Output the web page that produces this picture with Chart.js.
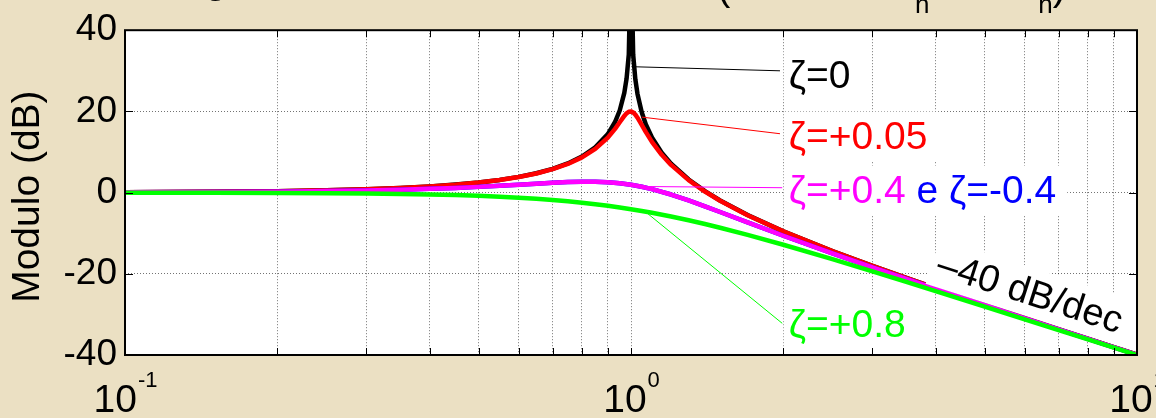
<!DOCTYPE html>
<html>
<head>
    <title>bode-modulo</title>
    <meta charset="utf-8">
    <script src="https://cdn.jsdelivr.net/npm/chart.js"></script>
    <style>
        body { margin: 0; background: #ebe0c3; }
        canvas { display: block; }
    </style>
</head>
<body>
    <canvas id="bode" width="1156" height="418"></canvas>

    <script>
        // pulsazione normalizzata w/wn
        const freqFine = [0.1, 0.15, 0.2, 0.25, 0.3, 0.35, 0.4, 0.45, 0.5, 0.55, 0.6, 0.65, 0.7, 0.75, 0.8, 0.85, 0.9, 0.93, 0.95, 0.97, 0.98, 0.99,
            1.0, 1.01, 1.02, 1.03, 1.05, 1.07, 1.1, 1.15, 1.2, 1.3, 1.4, 1.5, 1.7, 2, 2.5, 3, 3.5, 4, 5, 6, 7, 8, 9, 10];
        const freqCoarse = [0.1, 0.15, 0.2, 0.25, 0.3, 0.35, 0.4, 0.45, 0.5, 0.55, 0.6, 0.65, 0.7, 0.75, 0.8, 0.85, 0.9, 0.95,
            1.0, 1.05, 1.1, 1.2, 1.3, 1.4, 1.5, 1.7, 2, 2.5, 3, 3.5, 4, 5, 6, 7, 8, 9, 10];

        // modulo in dB
        const magZeta0 = [0.09, 0.20, 0.36, 0.56, 0.82, 1.14, 1.51, 1.97, 2.50, 3.13, 3.88, 4.77, 5.85, 7.18, 8.87, 11.14, 14.42, 17.39, 20.22, 24.57, 28.05, 34.02,
            60, 33.94, 27.87, 24.31, 19.79, 16.78, 13.56, 9.83, 7.13, 3.22, 0.36, -1.94, -5.53, -9.54, -14.40, -18.06, -21.02, -23.52, -27.60, -30.88, -33.62, -35.99, -38.06, -39.91];
        const magZeta005 = [0.09, 0.20, 0.35, 0.56, 0.81, 1.13, 1.51, 1.95, 2.48, 3.10, 3.84, 4.71, 5.77, 7.06, 8.67, 10.75, 13.55, 15.70, 17.32, 18.89, 19.52, 19.92,
            20.00, 19.74, 19.20, 18.44, 16.67, 14.89, 12.50, 9.31, 6.82, 3.07, 0.26, -2.00, -5.56, -9.56, -14.41, -18.07, -21.03, -23.52, -27.61, -30.88, -33.63, -35.99, -38.06, -39.91];
        const magZeta04 = [0.06, 0.13, 0.24, 0.37, 0.53, 0.71, 0.93, 1.16, 1.41, 1.67, 1.94, 2.19, 2.41, 2.59, 2.68, 2.68, 2.56, 2.31,
            1.94, 1.45, 0.87, -0.47, -1.93, -3.38, -4.78, -7.34, -10.63, -14.99, -18.44, -21.28, -23.72, -27.72, -30.96, -33.68, -36.03, -38.10, -39.94];
        const magZetaNeg04 = [0.06, 0.13, 0.24, 0.37, 0.53, 0.71, 0.93, 1.16, 1.41, 1.67, 1.94, 2.19, 2.41, 2.59, 2.68, 2.68, 2.56, 2.31,
            1.94, 1.45, 0.87, -0.47, -1.93, -3.38, -4.78, -7.34, -10.63, -14.99, -18.44, -21.28, -23.72, -27.72, -30.96, -33.68, -36.03, -38.10, -39.94];
        const magZeta08 = [-0.03, -0.06, -0.10, -0.17, -0.25, -0.35, -0.47, -0.62, -0.80, -1.01, -1.24, -1.51, -1.80, -2.13, -2.48, -2.85, -3.24, -3.66,
            -4.08, -4.52, -4.97, -5.89, -6.82, -7.74, -8.65, -10.40, -12.84, -16.39, -19.40, -21.98, -24.25, -28.06, -31.20, -33.86, -36.16, -38.20, -40.02];

        const xGridValues = [0.1, 0.2, 0.3, 0.4, 0.5, 0.6, 0.7, 0.8, 0.9, 1, 2, 3, 4, 5, 6, 7, 8, 9, 10];
        const xTickLabels = [[0.1, '10', '-1'], [1, '10', '0'], [10, '10', '1']];
        const yTitle = 'Modulo (dB)';

        // etichette: [testo, colore] ; punto sulla curva, fine del tratto, posizione testo (w, dB)
        const curveLabels = [
            { parts: [['ζ=0', '#000000']], from: [1.012, 31.0], to: [1.97, 30.0], at: [2.05, 28.8] },
            { parts: [['ζ=+0.05', '#ff0000']], from: [1.05, 18.6], to: [1.97, 14.5], at: [2.05, 13.8] },
            { parts: [['ζ=+0.4', '#ff00ff'], [' e ', '#0000ff'], ['ζ=-0.4', '#0000ff']], from: [1.065, 1.5], to: [1.99, 1.2], at: [2.05, 0.5] },
            { parts: [['ζ=+0.8', '#00ff00']], from: [1.065, -4.6], to: [1.99, -32.2], at: [2.05, -32.4] }
        ];
        const slopeText = '–40 dB/dec';
        const slopeAt = [6.15, -24.5];

        const FONT = '"Liberation Sans", Arial, sans-serif';

        const bodeDecor = {
            id: 'bodeDecor',
            beforeDraw(chart) {
                const ctx = chart.ctx;
                const a = chart.chartArea;
                ctx.save();
                ctx.fillStyle = '#ebe0c3';
                ctx.fillRect(0, 0, chart.width, chart.height);
                ctx.fillStyle = '#ffffff';
                ctx.fillRect(a.left, a.top, a.right - a.left, a.bottom - a.top);
                ctx.restore();
            },
            afterDatasetsDraw(chart) {
                const ctx = chart.ctx;
                const a = chart.chartArea;
                const xs = chart.scales.x;
                const ys = chart.scales.y;
                const px = v => xs.getPixelForValue(v);
                const py = v => ys.getPixelForValue(v);
                ctx.save();

                // tratti di richiamo
                ctx.lineWidth = 1;
                curveLabels.forEach(l => {
                    ctx.strokeStyle = l.parts[0][1];
                    ctx.beginPath();
                    ctx.moveTo(px(l.from[0]), py(l.from[1]));
                    ctx.lineTo(px(l.to[0]), py(l.to[1]));
                    ctx.stroke();
                });

                // etichette con sfondo bianco
                ctx.font = '39px ' + FONT;
                ctx.textBaseline = 'middle';
                ctx.textAlign = 'left';
                curveLabels.forEach(l => {
                    const x0 = px(l.at[0]);
                    const y0 = py(l.at[1]);
                    const total = l.parts.reduce((s, p) => s + ctx.measureText(p[0]).width, 0);
                    ctx.fillStyle = '#ffffff';
                    ctx.fillRect(x0 - 5, y0 - 25, total + 16, 50);
                    let x = x0;
                    l.parts.forEach(p => {
                        ctx.fillStyle = p[1];
                        ctx.fillText(p[0], x, y0 + 2);
                        x += ctx.measureText(p[0]).width;
                    });
                });

                // pendenza -40 dB/dec
                const ang = Math.atan2(py(-40) - py(0), px(10) - px(1));
                ctx.translate(px(slopeAt[0]), py(slopeAt[1]));
                ctx.rotate(ang);
                ctx.font = '38px ' + FONT;
                ctx.textAlign = 'center';
                const sw = ctx.measureText(slopeText).width;
                ctx.fillStyle = '#ffffff';
                ctx.fillRect(-sw / 2 - 6, -24, sw + 12, 48);
                ctx.fillStyle = '#000000';
                ctx.fillText(slopeText, 0, 2);
                ctx.setTransform(1, 0, 0, 1, 0, 0);

                // cornice e tacche
                ctx.strokeStyle = '#000000';
                ctx.lineWidth = 1;
                xGridValues.forEach(v => {
                    const x = Math.round(px(v)) + 0.5;
                    ctx.beginPath();
                    ctx.moveTo(x, a.bottom); ctx.lineTo(x, a.bottom - 7);
                    ctx.moveTo(x, a.top); ctx.lineTo(x, a.top + 7);
                    ctx.stroke();
                });
                ys.ticks.forEach(t => {
                    const y = Math.round(py(t.value)) + 0.5;
                    ctx.beginPath();
                    ctx.moveTo(a.left, y); ctx.lineTo(a.left + 8, y);
                    ctx.moveTo(a.right, y); ctx.lineTo(a.right - 8, y);
                    ctx.stroke();
                });
                ctx.lineWidth = 2;
                ctx.strokeRect(a.left, a.top, a.right - a.left, a.bottom - a.top);

                // etichette asse x (10^n)
                ctx.fillStyle = '#000000';
                ctx.textAlign = 'left';
                ctx.textBaseline = 'alphabetic';
                xTickLabels.forEach(t => {
                    ctx.font = '39px ' + FONT;
                    const wb = ctx.measureText(t[1]).width;
                    ctx.font = '22px ' + FONT;
                    const we = ctx.measureText(t[2]).width;
                    const x0 = px(t[0]) - (wb + we) / 2;
                    ctx.font = '39px ' + FONT;
                    ctx.fillText(t[1], x0, 412);
                    ctx.font = '22px ' + FONT;
                    ctx.fillText(t[2], x0 + wb + 1, 387);
                });

                // titolo asse y
                ctx.translate(28, (a.top + a.bottom) / 2 + 4);
                ctx.rotate(-Math.PI / 2);
                ctx.font = '39px ' + FONT;
                ctx.textAlign = 'center';
                ctx.textBaseline = 'middle';
                ctx.fillText(yTitle, 0, 0);
                ctx.setTransform(1, 0, 0, 1, 0, 0);

                // titolo (tagliato in alto)
                ctx.textBaseline = 'alphabetic';
                ctx.font = '40px ' + FONT;
                ctx.textAlign = 'right';
                ctx.fillText('Diagramma di Bode del modulo', 705, -7);
                ctx.textAlign = 'left';
                const titleParts = [['(ω da 0.1ω', 40, 0], ['n', 26, 13], [' ÷10ω', 40, 0], ['n', 26, 13], [')', 40, 0]];
                let tx = 717;
                titleParts.forEach(p => {
                    ctx.font = p[1] + 'px ' + FONT;
                    ctx.fillText(p[0], tx, p[2]);
                    tx += ctx.measureText(p[0]).width;
                });

                ctx.restore();
            }
        };

        const toPoints = (xs, ys) => xs.map((x, i) => ({ x: x, y: ys[i] }));
        const lineStyle = { borderWidth: 4.5, pointRadius: 0, tension: 0, fill: false, borderJoinStyle: 'round', borderCapStyle: 'round' };

        new Chart(document.getElementById('bode'), {
            type: 'line',
            data: {
                datasets: [
                    Object.assign({ label: 'ζ=+0.8', data: toPoints(freqCoarse, magZeta08), borderColor: '#00ff00' }, lineStyle),
                    Object.assign({ label: 'ζ=+0.4', data: toPoints(freqCoarse, magZeta04), borderColor: '#ff00ff' }, lineStyle),
                    Object.assign({ label: 'ζ=-0.4', data: toPoints(freqCoarse, magZetaNeg04), borderColor: '#0000ff' }, lineStyle),
                    Object.assign({ label: 'ζ=+0.05', data: toPoints(freqFine, magZeta005), borderColor: '#ff0000' }, lineStyle),
                    Object.assign({ label: 'ζ=0', data: toPoints(freqFine, magZeta0), borderColor: '#000000' }, lineStyle)
                ]
            },
            options: {
                responsive: false,
                animation: false,
                devicePixelRatio: 1,
                layout: { padding: { top: 19, right: 19, left: 0, bottom: 0 } },
                plugins: { legend: { display: false }, tooltip: { enabled: false } },
                scales: {
                    x: {
                        type: 'logarithmic',
                        min: 0.1,
                        max: 10,
                        afterBuildTicks: scale => { scale.ticks = xGridValues.map(v => ({ value: v })); },
                        afterFit: scale => { scale.height = 63; },
                        ticks: { display: false, autoSkip: false },
                        grid: { color: 'rgba(0,0,0,0.55)', lineWidth: 1, drawTicks: false },
                        border: { display: false, dash: [1, 2] }
                    },
                    y: {
                        min: -40,
                        max: 40,
                        afterFit: scale => { scale.width = 125; },
                        ticks: { stepSize: 20, padding: 8, color: '#000000', font: { family: FONT, size: 37 } },
                        grid: { color: 'rgba(0,0,0,0.55)', lineWidth: 1, drawTicks: false },
                        border: { display: false, dash: [1, 2] }
                    }
                }
            },
            plugins: [bodeDecor]
        });
    </script>
</body>
</html>
